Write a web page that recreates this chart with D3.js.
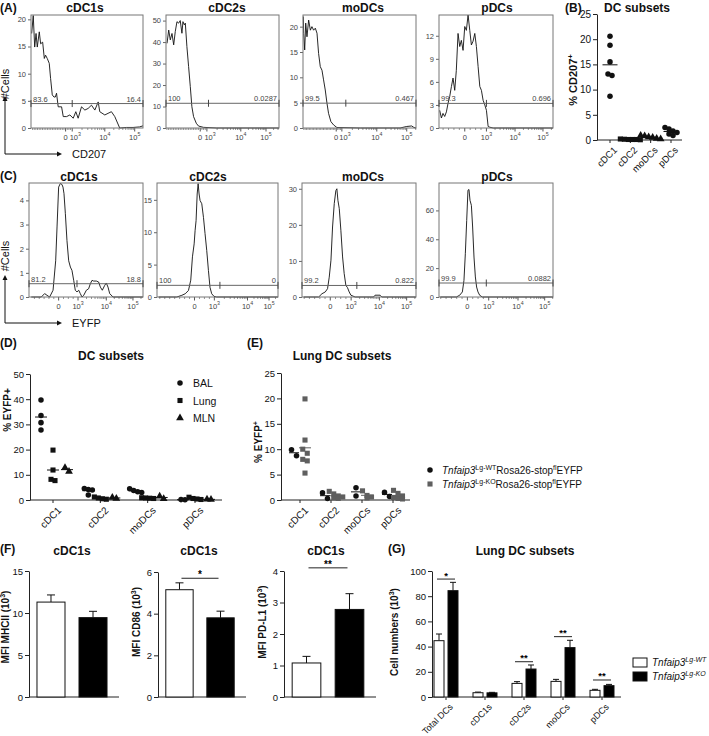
<!DOCTYPE html>
<html>
<head>
<meta charset="utf-8">
<title></title>
<style>
  body{ margin:0; background:#fff; font-family:"Liberation Sans", Arial, sans-serif }
  svg{ display:block }
  .ttl{ font-weight:bold; font-size:12px; fill:#111 }
  .lbl{ font-size:10px; fill:#111 }
  .htick{ font-size:7.5px; fill:#444 }
  .ylab{ font-weight:bold; font-size:10px; fill:#111 }
</style>
<script src="https://cdnjs.cloudflare.com/ajax/libs/d3/7.8.5/d3.min.js"></script>
</head>
<body>
<script>
// ---------- data ----------
// histograms: [position along axis (%), #cells]
var aTitles = ["cDC1s","cDC2s","moDCs","pDCs"];
var aCdc1 = [[0.6,17.4],[2,20.7],[3.3,14.9],[4.5,17.4],[5.6,14.9],[7.4,17.7],[8.6,15.5],[10.4,15.8],[11.9,12.8],[13,13.4],[14.5,12.8],[16.3,11.9],[17.5,9.1],[19,6.1],[20.5,5.7],[21.7,5.7],[22.8,6.4],[24.3,3.9],[27.3,3.9],[28.8,2.1],[31.8,2.1],[34.7,2.4],[37.7,1.8],[40,3.0],[42.1,1.8],[45.1,3.9],[48.1,3.3],[51,3.6],[54,4.2],[57,3.3],[60,4.8],[61.4,3.0],[65.9,2.4],[68.8,2.7],[71.8,3.0],[74.8,2.1],[79.2,0],[85.2,0.1],[91.1,0.1],[97,0.2],[100,0.4]];
var aCdc2 = [[0.9,39.4],[2.4,45.6],[3.8,41],[5.3,44],[6.8,38.7],[8.2,44.9],[9.7,49.5],[11.2,48.8],[12.6,50],[14.1,44.1],[15,49.5],[16.2,48],[17.1,48.8],[18.5,37.9],[20,28.6],[21.5,19.3],[22.9,9.9],[24.4,5.3],[26.8,2.2],[28.8,0.9],[33.2,0.3],[45,0],[100,0]];
var aMo = [[0.3,22],[0.6,18.7],[1.5,15.4],[2.4,20.7],[3.5,18],[5,21.3],[6.5,19.3],[7.9,20],[9.4,19.3],[10.9,19.7],[12.4,18.7],[13.8,14.7],[15.3,12.1],[16.8,11.4],[18.2,9.5],[19.7,7.5],[21.2,4.9],[22.6,2.9],[24.7,1.25],[27.1,0.6],[30,0.1],[50.6,0],[85.9,0],[91.8,0.3],[96.2,0.4],[98.2,0.1],[100,0]];
var aP = [[0.6,2.3],[2.1,1.3],[3.5,1.9],[5,1.5],[6.5,2.1],[7.9,3.2],[9.4,4.1],[10.9,5.4],[12.3,6.5],[13.8,4.9],[15.2,7.5],[16.7,12.3],[18.2,10.6],[19.6,11.4],[21.1,10.1],[22.6,13.2],[24,12.7],[25.5,14.7],[27,12.7],[28.4,10.8],[29.9,11.3],[31.4,12.3],[32.8,10.6],[34.3,8],[35.8,5.4],[37.2,4.9],[38.7,3.6],[40.2,3],[41.6,2.3],[43.1,0.2],[44.6,0.1],[47.5,0],[100,0]];
var aYTicks = [[0,5,10,15,20],[0,10,20,30,40,50],[0,5,10,15,20],[0,3,6,9,12]];
var aGates = [4.5, 11.5, 4.9, 3.2];
var aGateLabels = [["83.6","16.4"],["100","0.0287"],["99.5","0.467"],["99.3","0.696"]];

var cCdc1 = [[2,0],[10.8,0],[13.7,0.14],[15.8,0.07],[18.1,0],[21.1,0.28],[23.4,1.5],[24.6,2.9],[26,4.55],[27.5,4.7],[28.9,4.66],[29.8,4.55],[30.7,4.28],[31.9,3.45],[33.3,2.34],[34.8,1.5],[36.3,1.24],[37.7,1.1],[39.2,0.69],[40.6,0.28],[42.1,0.21],[43.6,0.28],[45,0.14],[46.5,0],[48,0.07],[50.3,0.28],[52.3,0.34],[53.8,0.55],[55.3,0.69],[56.7,0.66],[59.1,0.66],[61.1,0.62],[62.6,0.41],[64.3,0.28],[66.4,0.48],[67.8,0.58],[69.3,0.41],[70.8,0.14],[73.7,0],[100,0]];
var cCdc2 = [[1.4,0],[16.4,0],[20.5,0.26],[23.3,0.5],[26,1],[27.9,2.6],[29.3,6.2],[30.7,8.2],[31.5,10.3],[32.3,11.8],[33.2,15.9],[34,17.5],[34.8,15.9],[35.6,14.9],[37,14.4],[38.4,12.3],[39.7,9.8],[41.1,7.2],[42.5,4.1],[43.8,1.5],[45.2,0.5],[47.1,0.1],[49.3,0],[100,0]];
var cMo = [[1.5,0],[14.6,0],[17.5,0.9],[20.4,1.4],[22.4,2.3],[23.9,5.5],[25.4,10.2],[26.8,19.4],[28.3,25.9],[29.7,29.5],[30.6,30],[31.5,26.8],[32.7,24.5],[34.1,18.5],[35.6,11.1],[37,6.5],[38.5,3.2],[39.9,2.6],[41.4,1.4],[42.9,0.5],[46.6,0],[62.7,0],[64.1,0.5],[68.5,0.5],[70,0],[100,0]];
var cP = [[1.2,0],[15.2,0],[18.1,1.2],[20.5,3.5],[21.9,11.5],[23.1,30],[24.3,53],[25.4,74],[26.3,74.5],[27.2,67],[28.4,63.5],[29.5,48.5],[30.7,27.7],[31.9,13.9],[33,6.9],[34.2,3.5],[35.7,1.2],[38,0],[100,0]];
var cYTicks = [[0,1,2,3,4],[0,5,10,15],[0,10,20,30],[0,20,40,60]];
var cGates = [0.55, 1.8, 3.2, 9.7];
var cGateLabels = [["81.2","18.8"],["100","0"],["99.2","0.822"],["99.9","0.0882"]];

// (B) % CD207+
var bCats = ["cDC1","cDC2","moDCs","pDCs"];
var bVals = [[20.6,18.8,15.5,13.1,12.8,8.7],[0.1,0.15,0.05,0.1,0.2,0.1],[0.3,0.8,0.5,0.9,0.2,0.6],[2.5,2.2,1.8,1.2,0.9,1.5]];
var bYTicks = [0,5,10,15,20,25];

// (D) % EYFP+
var dCats = ["cDC1","cDC2","moDCs","pDCs"];
var dSeries = ["BAL","Lung","MLN"];
var dBAL  = [[39.7,33.5,30.7,27.8],[4.6,4.2,4.0,2.0],[4.5,3.8,3.3,3.0],[0.1,0.15]];
var dLung = [[19.8,11.9,8.2,7.7],[1.2,0.8,0.5,0.3],[0.9,0.8,0.7,0.6],[1.1,0.6,0.4,0.2]];
var dMLN  = [[12.8,11.3],[1.0,0.6],[1.5,0.5],[0.3,0.2]];
var dYTicks = [0,10,20,30,40,50];

// (E) Lung % EYFP+
var eCats = ["cDC1","cDC2","moDCs","pDCs"];
var eWT = [[9.9,8.7],[1.4,0.3],[2.4,0.8],[1.5,0.7]];
var eKO = [[19.9,11.8,10,9.2,8.0,7.7,5.3],[1.7,1.2,0.8,0.6,0.4,0.3],[1.8,0.9,0.6,0.4],[1.9,1.3,0.8,0.5,0.3,0.2]];
var eYTicks = [0,5,10,15,20,25];

// (F) MFI, WT vs KO
var fGroups = ["WT","KO"];
var fMHCII = [11.3, 9.45], fMHCIIerr = [0.85, 0.75];
var fCD86 = [5.15, 3.8],  fCD86err = [0.33, 0.32];
var fPDL1 = [1.08, 2.78], fPDL1err = [0.21, 0.5];

// (G) cell numbers
var gCats = ["Total DCs","cDC1s","cDC2s","moDCs","pDCs"];
var gWT = [44.7, 3.4, 10.8, 12.4, 5.3], gWTerr = [5.3, 0.5, 1.4, 1.6, 0.8];
var gKO = [84.4, 3.3, 22.2, 39.2, 9.0], gKOerr = [6.6, 0.4, 3.2, 5.8, 1.0];
var gSig = ["*", "", "**", "**", "**"], gSigAt = [93.6, 0, 28, 47.9, 13.5];
var gYTicks = [0,20,40,60,80,100];

// ---------- drawing ----------
var svg = d3.select("body").append("svg").attr("width",709).attr("height",736);
var fmt = d3.format("~g");

function rich(t, parts){
  var up = false;
  parts.forEach(function(p){
    var ts = t.append("tspan").text(p.t);
    if (p.sup && !up){ ts.attr("dy",-4).style("font-size","0.7em"); up = true }
    else if (p.sup){ ts.style("font-size","0.7em") }
    else if (up){ ts.attr("dy",4); up = false }
    if (p.i) ts.style("font-style","italic");
  });
  return t;
}

function label(x, y, s, cls, anchor){
  return svg.append("text").attr("x",x).attr("y",y).attr("class",cls||"ttl")
    .attr("text-anchor",anchor||"start").text(s);
}

function hist(cfg){
  var g = svg.append("g");
  var x = d3.scaleLinear().domain([0,100]).range([cfg.x0,cfg.x1]);
  var y = d3.scaleLinear().domain([0,cfg.yMax]).range([cfg.yb,cfg.yt]);
  label(cfg.tx, cfg.ty, cfg.title, "ttl", "middle");

  var ya = g.append("g").attr("transform","translate("+cfg.x0+",0)")
    .call(d3.axisLeft(y).tickValues(cfg.yTicks).tickFormat(fmt).tickSize(3).tickPadding(2));
  ya.select(".domain").remove();
  ya.attr("font-family",null).attr("font-size",null);
  ya.selectAll("text").attr("class","htick");
  ya.selectAll("line").attr("stroke","#666");

  // x ticks: linear region then log decades
  var t = cfg.xt, minors = [], lin = (t[1]-t[0])/4;
  for (var p = t[1]-lin; p > 0.5; p -= lin) if (Math.abs(p-t[0])>0.5) minors.push(p);
  [[t[1],t[2]],[t[2],t[3]],[t[3],t[3]+(t[3]-t[2])]].forEach(function(d){
    for (var k=2;k<10;k++){ var q = d[0]+(d[1]-d[0])*Math.log10(k); if (q<100) minors.push(q) }
  });
  g.selectAll(".mn").data(minors).enter().append("line")
    .attr("x1",d=>x(d)).attr("x2",d=>x(d)).attr("y1",cfg.yb).attr("y2",cfg.yb+2)
    .attr("stroke","#666").attr("stroke-width",0.7);
  g.selectAll(".mj").data(t).enter().append("line")
    .attr("x1",d=>x(d)).attr("x2",d=>x(d)).attr("y1",cfg.yb).attr("y2",cfg.yb+3.5)
    .attr("stroke","#555");
  var tight = x(t[1]) - x(t[0]) < 12;
  t.forEach(function(d,i){
    var tx = g.append("text").attr("y",cfg.yb+12).attr("class","htick");
    if (i===0) tx.attr("x", tight ? x(d)+2 : x(d)).attr("text-anchor", tight ? "end" : "middle").text("0");
    else {
      tx.attr("x", (tight && i===1) ? x(d)-2.5 : x(d)).attr("text-anchor", (tight && i===1) ? "start" : "middle");
      rich(tx,[{t:"10"},{t:String(i+2),sup:true}]);
    }
  });

  g.append("path").datum(cfg.data)
    .attr("d", d3.line().x(d=>x(d[0])).y(d=>y(d[1])))
    .attr("fill","none").attr("stroke","#111").attr("stroke-width",0.9);

  g.append("rect").attr("x",cfg.x0).attr("y",cfg.yt)
    .attr("width",cfg.x1-cfg.x0).attr("height",cfg.yb-cfg.yt)
    .attr("fill","none").attr("stroke","#777");

  var gy = y(cfg.gate);
  g.append("line").attr("x1",cfg.x0).attr("x2",cfg.x1).attr("y1",gy).attr("y2",gy)
    .attr("stroke","#666").attr("stroke-width",1);
  [0, cfg.div, 100].forEach(function(q){
    g.append("line").attr("x1",x(q)).attr("x2",x(q)).attr("y1",gy-3.5).attr("y2",gy+3.5)
      .attr("stroke","#444");
  });
  g.append("text").attr("x",cfg.x0+2).attr("y",gy-2).attr("class","htick").text(cfg.gl[0]);
  g.append("text").attr("x",cfg.x1-2).attr("y",gy-2).attr("class","htick")
    .attr("text-anchor","end").text(cfg.gl[1]);
}

// panel A
var aLay = [
  {x0:31,x1:143,tx:85,yMax:20.8,xt:[30.9,36.8,65.9,92.6],div:36.8},
  {x0:166,x1:279,tx:227,yMax:52.6,xt:[30.3,36.2,66.2,88.5],div:37.6},
  {x0:303,x1:416,tx:363,yMax:22.3,xt:[29.4,34.4,65.3,91.8],div:37.9},
  {x0:439,x1:553,tx:497,yMax:14.7,xt:[22.6,41.6,66.7,91.2],div:41.6}
];
var aData = [aCdc1,aCdc2,aMo,aP];
aLay.forEach(function(l,i){
  hist(Object.assign({yt:15,yb:128,ty:12,title:aTitles[i],data:aData[i],
    yTicks:aYTicks[i],gate:aGates[i],gl:aGateLabels[i]},l));
});

// panel C
var cLay = [
  {x0:29,x1:143,tx:79,yMax:4.72,xt:[26,43,67.8,91.2],div:42.1},
  {x0:157,x1:278,tx:208,yMax:17.6,xt:[31,47.4,74.8,92.6],div:52},
  {x0:302,x1:416,tx:363,yMax:31.6,xt:[24.8,43.1,67.9,91.8],div:48.1},
  {x0:439,x1:553,tx:497,yMax:79,xt:[24.9,43.6,69.3,92.7],div:41.5}
];
var cData = [cCdc1,cCdc2,cMo,cP];
cLay.forEach(function(l,i){
  hist(Object.assign({yt:183,yb:297,ty:181,title:aTitles[i],data:cData[i],
    yTicks:cYTicks[i],gate:cGates[i],gl:cGateLabels[i]},l));
});

// panel letters and axis arrows
label(0,12,"(A)"); label(565,12,"(B)"); label(0,180,"(C)");
label(0,347,"(D)"); label(247,347,"(E)"); label(0,553,"(F)"); label(388,553,"(G)");

function arrows(yb, ytop, xr, xlab, ylabY){
  svg.append("path").attr("d","M5,"+yb+"V"+(ytop+4)+"M5,"+yb+"H"+(xr-4))
    .attr("fill","none").attr("stroke","#111").attr("stroke-width",1);
  svg.append("path").attr("d","M5,"+ytop+"l-2.5,5h5z").attr("fill","#111");
  svg.append("path").attr("d","M"+xr+","+yb+"l-5,-2.5v5z").attr("fill","#111");
  svg.append("text").attr("x",72).attr("y",yb+4).attr("class","lbl")
    .style("font-size","11px").text(xlab);
  svg.append("text").attr("transform","translate(9,"+ylabY+") rotate(-90)")
    .attr("text-anchor","middle").attr("class","lbl").style("font-size","11px").text("#Cells");
}
arrows(154, 96, 62, "CD207", 84);
arrows(323, 275, 62, "EYFP", 256);

// swarm offsets: points with close y share a row, centred
function swarm(vals, y, thr, s){
  var idx = vals.map((v,i)=>i).sort((a,b)=>vals[b]-vals[a]);
  var off = [], rows = [], cur = null;
  idx.forEach(function(i){
    var py = y(vals[i]);
    if (cur && Math.abs(py-cur.y) < thr) cur.items.push(i);
    else { cur = {y:py, items:[i]}; rows.push(cur) }
  });
  rows.forEach(r => r.items.forEach((i,k) => off[i] = (k-(r.items.length-1)/2)*s));
  return off;
}

function yAxis(y, x0, ticks, fs){
  var a = svg.append("g").attr("transform","translate("+x0+",0)")
    .call(d3.axisLeft(y).tickValues(ticks).tickFormat(fmt).tickSize(4).tickPadding(2).tickSizeOuter(0));
  a.attr("font-family",null).attr("font-size",null);
  a.selectAll("text").style("font-size",fs+"px").attr("fill","#111");
  a.selectAll("line,path").attr("stroke","#222");
  return a;
}
function xAxisCats(x, cats, x0, x1, y0, fs, dx){
  svg.append("line").attr("x1",x0).attr("x2",x1).attr("y1",y0).attr("y2",y0).attr("stroke","#222");
  cats.forEach(function(c){
    svg.append("line").attr("x1",x(c)).attr("x2",x(c)).attr("y1",y0).attr("y2",y0+3).attr("stroke","#222");
    svg.append("text").attr("transform","translate("+(x(c)+(dx||3))+","+(y0+6)+") rotate(-45)")
      .attr("text-anchor","end").attr("dy","0.7em").style("font-size",fs+"px").attr("fill","#111").text(c);
  });
}
var sym = {
  circle: d3.symbol(d3.symbolCircle, 24),
  square: d3.symbol(d3.symbolSquare, 26),
  triangle: d3.symbol(d3.symbolTriangle, 26)
};
function dots(vals, cx, y, shape, color, s, meanW){
  var off = swarm(vals, y, 6.5, s);
  svg.append("g").selectAll("path").data(vals).enter().append("path")
    .attr("d", sym[shape]())
    .attr("transform",(d,i)=>"translate("+(cx+off[i])+","+y(d)+")")
    .attr("fill",color);
  var m = d3.mean(vals);
  svg.append("line").attr("x1",cx-meanW/2).attr("x2",cx+meanW/2)
    .attr("y1",y(m)).attr("y2",y(m)).attr("stroke",color).attr("stroke-width",1);
}

// panel B
label(637,12,"DC subsets","ttl","middle");
var bY = d3.scaleLinear().domain([0,25]).range([140,14]);
var bX = d3.scalePoint().domain(bCats).range([610,671]);
var bShapes = ["circle","square","triangle","circle"];
yAxis(bY, 597, bYTicks, 10);
xAxisCats(bX, bCats, 597, 682, 140, 9.5, 3);
bCats.forEach((c,i) => dots(bVals[i], bX(c), bY, bShapes[i], "#111", 4, 15));
svg.append("text").attr("transform","translate(577,80) rotate(-90)").attr("text-anchor","middle")
  .attr("class","ylab").style("font-size","11px")
  .call(t => rich(t,[{t:"% CD207"},{t:"+",sup:true}]));

// panel D
label(111,360,"DC subsets","ttl","middle");
var dY = d3.scaleLinear().domain([0,50]).range([500,374]);
var dX = d3.scalePoint().domain(dCats).range([53,195]);
var dOff = d3.scaleOrdinal().domain(dSeries).range([-12,0,14]);
var dShape = d3.scaleOrdinal().domain(dSeries).range(["circle","square","triangle"]);
yAxis(dY, 30, dYTicks, 9.5);
xAxisCats(dX, dCats, 30, 222, 500, 10, 4);
[dBAL,dLung,dMLN].forEach(function(ser,si){
  var sn = dSeries[si];
  dCats.forEach((c,i) => dots(ser[i], dX(c)+dOff(sn), dY, dShape(sn), "#111", 4, 12));
});
svg.append("text").attr("transform","translate(11,410) rotate(-90)").attr("text-anchor","middle")
  .attr("class","ylab").text("% EYFP+");
dSeries.forEach(function(s,i){
  var ly = 383 + i*17.5;
  svg.append("path").attr("d",sym[dShape(s)]()).attr("transform","translate(180,"+ly+")").attr("fill","#111");
  svg.append("text").attr("x",193).attr("y",ly+4).attr("class","lbl").style("font-size","10.5px").text(s);
});

// panel E
label(342,360,"Lung DC subsets","ttl","middle");
var eY = d3.scaleLinear().domain([0,25]).range([500,373]);
var eX = d3.scalePoint().domain(eCats).range([300,393]);
var koGrey = "#5f5f5f";
yAxis(eY, 281, eYTicks, 9.5);
xAxisCats(eX, eCats, 281, 410, 500, 10, 4);
eCats.forEach(function(c,i){
  dots(eWT[i], eX(c)-6, eY, "circle", "#111", 5, 10);
  dots(eKO[i], eX(c)+5, eY, "square", koGrey, 4.5, 12);
});
svg.append("text").attr("transform","translate(262,442) rotate(-90)").attr("text-anchor","middle")
  .attr("class","ylab").call(t => rich(t,[{t:"% EYFP"},{t:"+",sup:true}]));
[["Lg-WT","#111","circle"],["Lg-KO",koGrey,"square"]].forEach(function(d,i){
  var ly = 470 + i*14;
  svg.append("path").attr("d",sym[d[2]]()).attr("transform","translate(430,"+ly+")").attr("fill",d[1]);
  var t = svg.append("text").attr("x",442).attr("y",ly+4).attr("class","lbl").style("font-size","10px");
  rich(t,[{t:"Tnfaip3",i:true},{t:d[0],sup:true},{t:"Rosa26-stop"},{t:"fl",sup:true},{t:"EYFP"}]);
});

// panel F
function barPanel(o){
  var y = d3.scaleLinear().domain([0,o.yMax]).range([697,o.yTop]);
  var x = d3.scaleBand().domain(fGroups).range([o.x0,o.x1]).paddingInner(1/3).paddingOuter(0.19);
  label(o.tx,555,"cDC1s","ttl","middle");
  yAxis(y, o.x0, o.ticks, 9.5);
  svg.append("line").attr("x1",o.x0).attr("x2",o.x1+4).attr("y1",697).attr("y2",697).attr("stroke","#222");
  fGroups.forEach(function(gk,i){
    var bx = x(gk), bw = x.bandwidth(), cx = bx+bw/2;
    svg.append("line").attr("x1",cx).attr("x2",cx).attr("y1",y(o.vals[i])).attr("y2",y(o.vals[i]+o.err[i])).attr("stroke","#111");
    svg.append("line").attr("x1",cx-4).attr("x2",cx+4).attr("y1",y(o.vals[i]+o.err[i])).attr("y2",y(o.vals[i]+o.err[i])).attr("stroke","#111");
    svg.append("rect").attr("x",bx).attr("y",y(o.vals[i])).attr("width",bw).attr("height",697-y(o.vals[i]))
      .attr("fill",i===0?"#fff":"#000").attr("stroke","#111").attr("stroke-width",1);
  });
  if (o.sig){
    var sy = y(o.sigAt), c0 = x("WT")+x.bandwidth()/2, c1 = x("KO")+x.bandwidth()/2;
    svg.append("line").attr("x1",c0+2).attr("x2",c1-2).attr("y1",sy).attr("y2",sy).attr("stroke","#222");
    svg.append("text").attr("x",(c0+c1)/2).attr("y",sy).attr("text-anchor","middle")
      .style("font-size","10px").style("font-weight","bold").text(o.sig);
  }
  var t = svg.append("text").attr("transform","translate("+o.lx+","+o.ly+") rotate(-90)")
    .attr("text-anchor","middle").attr("class","ylab");
  rich(t,[{t:o.ylab+" (10"},{t:"3",sup:true},{t:")"}]);
}
barPanel({x0:29,x1:115,yMax:15,yTop:571,ticks:[0,5,10,15],tx:72,vals:fMHCII,err:fMHCIIerr,ylab:"MFI MHCII",lx:9,ly:627});
barPanel({x0:158,x1:242,yMax:6,yTop:572,ticks:[0,2,4,6],tx:199,vals:fCD86,err:fCD86err,ylab:"MFI CD86",lx:140,ly:622,sig:"*",sigAt:5.7});
barPanel({x0:284,x1:372,yMax:4,yTop:571,ticks:[0,1,2,3,4],tx:326,vals:fPDL1,err:fPDL1err,ylab:"MFI PD-L1",lx:266,ly:622,sig:"**",sigAt:4.1});

// panel G
label(525,555,"Lung DC subsets","ttl","middle");
var gY = d3.scaleLinear().domain([0,100]).range([697,571]);
var gX = d3.scalePoint().domain(gCats).range([446,602]);
yAxis(gY, 432, gYTicks, 9.5);
xAxisCats(gX, gCats, 432, 621, 697, 9, 3);
gCats.forEach(function(c,i){
  var cx = gX(c);
  [[gWT[i],gWTerr[i],cx-12,"#fff"],[gKO[i],gKOerr[i],cx+2,"#000"]].forEach(function(b){
    var bc = b[2]+5;
    svg.append("line").attr("x1",bc).attr("x2",bc).attr("y1",gY(b[0])).attr("y2",gY(b[0]+b[1])).attr("stroke","#111");
    svg.append("line").attr("x1",bc-3).attr("x2",bc+3).attr("y1",gY(b[0]+b[1])).attr("y2",gY(b[0]+b[1])).attr("stroke","#111");
    svg.append("rect").attr("x",b[2]).attr("y",gY(b[0])).attr("width",10).attr("height",697-gY(b[0]))
      .attr("fill",b[3]).attr("stroke","#111");
  });
  if (gSig[i]){
    var sy = gY(gSigAt[i]);
    svg.append("line").attr("x1",cx-9).attr("x2",cx+9).attr("y1",sy).attr("y2",sy).attr("stroke","#222");
    svg.append("text").attr("x",cx).attr("y",sy-0.5).attr("text-anchor","middle")
      .style("font-size","9.5px").style("font-weight","bold").text(gSig[i]);
  }
});
rich(svg.append("text").attr("transform","translate(398,632) rotate(-90)").attr("text-anchor","middle").attr("class","ylab"),
  [{t:"Cell numbers (10"},{t:"3",sup:true},{t:")"}]);
[["Lg-WT","#fff"],["Lg-KO","#000"]].forEach(function(d,i){
  var ly = 658 + i*14;
  svg.append("rect").attr("x",633).attr("y",ly).attr("width",14).attr("height",9).attr("fill",d[1]).attr("stroke","#111");
  rich(svg.append("text").attr("x",652).attr("y",ly+8).attr("class","lbl").style("font-size","10px"),
    [{t:"Tnfaip3",i:true},{t:d[0],sup:true,i:true}]);
});
</script>
</body>
</html>
